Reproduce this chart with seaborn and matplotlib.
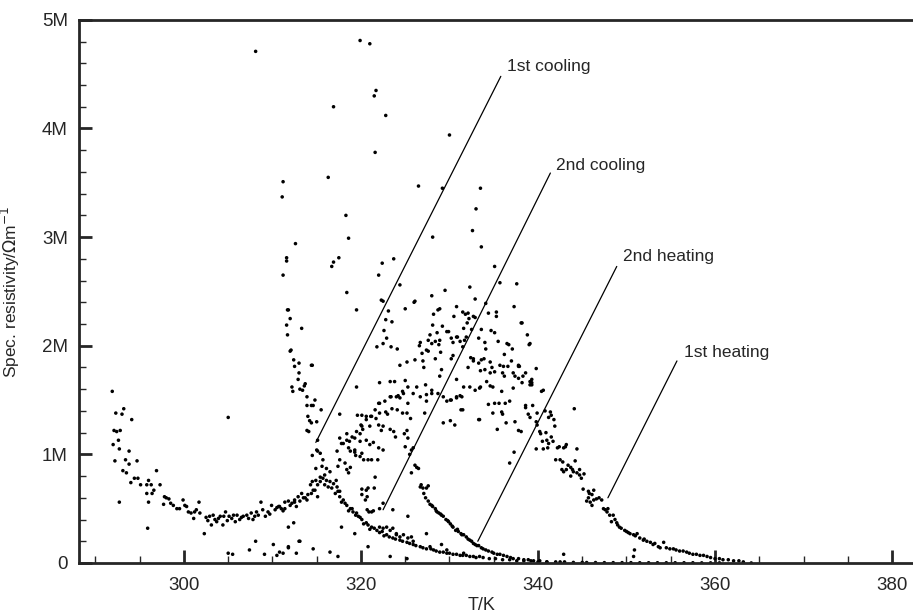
import numpy as np
import pandas as pd
import seaborn as sns
import matplotlib
matplotlib.use("Agg")
from matplotlib import pyplot as plt
from matplotlib.ticker import MultipleLocator, FuncFormatter

# (T in K, specific resistivity in M Ohm m^-1)

cool1 = [
    (291.9, 1.58), (292.1, 1.22), (292.3, 1.38), (292.4, 1.21), (292.6, 1.13), (292.0, 1.09),
    (292.7, 1.05), (292.8, 1.22), (293.0, 1.37), (293.2, 1.42), (292.2, 0.94), (292.7, 0.56),
    (293.4, 0.95), (293.8, 1.03), (294.1, 1.32), (293.1, 0.85), (293.5, 0.83), (293.8, 0.91),
    (294.0, 0.74), (294.4, 0.78), (294.7, 0.94), (294.8, 0.78), (295.1, 0.72), (295.8, 0.72),
    (295.8, 0.64), (296.0, 0.76), (295.9, 0.32), (296.3, 0.72), (296.4, 0.64), (296.6, 0.67),
    (296.9, 0.85), (297.3, 0.72), (296.0, 0.56), (297.8, 0.61), (298.0, 0.60), (297.7, 0.54),
    (298.3, 0.59), (298.5, 0.55), (298.8, 0.53), (299.2, 0.50), (299.5, 0.50), (299.9, 0.58),
    (300.1, 0.53), (300.3, 0.52), (300.5, 0.47), (300.8, 0.46), (301.1, 0.41), (301.2, 0.47),
    (301.4, 0.49), (301.7, 0.56), (301.8, 0.46), (302.3, 0.27), (302.7, 0.39), (302.9, 0.43),
    (303.1, 0.35), (303.3, 0.44), (303.5, 0.40), (303.7, 0.38), (304.1, 0.43), (304.4, 0.35),
    (304.5, 0.43), (304.7, 0.47), (305.0, 1.34), (305.1, 0.43), (305.4, 0.41), (305.8, 0.38),
    (306.0, 0.44), (306.3, 0.40), (306.7, 0.43), (307.1, 0.44), (307.3, 0.41), (307.6, 0.46),
    (308.0, 0.43), (308.4, 0.44), (308.7, 0.56), (308.9, 0.49), (309.2, 0.43), (309.5, 0.47),
    (309.9, 0.53), (310.3, 0.49), (310.7, 0.52), (311.0, 0.50), (311.4, 0.56), (311.8, 0.57),
    (312.2, 0.55), (312.5, 0.58), (312.9, 0.61), (313.3, 0.64), (313.7, 0.60), (314.0, 0.63),
    (314.6, 0.67), (315.1, 0.61), (302.5, 0.42), (303.9, 0.41), (304.9, 0.39), (305.6, 0.44),
    (306.5, 0.42), (307.8, 0.40), (308.2, 0.47), (309.7, 0.45), (310.5, 0.51), (311.2, 0.48),
    (312.0, 0.53), (312.7, 0.52), (313.1, 0.57), (313.9, 0.58), (310.8, 0.52), (311.4, 0.50),
    (312.5, 0.56), (313.5, 0.60), (314.4, 0.64), (314.8, 0.67), (315.1, 0.72), (315.4, 0.75),
    (305.0, 0.09), (305.5, 0.08), (307.4, 0.12), (308.1, 0.20), (309.1, 0.08), (310.1, 0.17),
    (310.5, 0.07), (310.8, 0.10), (311.8, 0.14), (312.4, 0.37), (311.8, 0.33), (312.7, 0.09),
    (313.0, 0.20), (311.2, 0.09), (311.8, 0.15), (313.1, 0.20), (314.6, 0.13),
    (311.7, 2.10), (312.0, 1.95), (312.1, 1.96), (312.4, 1.87), (313.0, 1.84), (312.5, 1.81),
    (314.5, 1.82), (312.9, 1.69), (313.0, 1.75), (313.7, 1.65), (312.2, 1.62), (312.3, 1.58),
    (313.1, 1.60), (313.4, 1.59), (313.6, 1.63), (313.9, 1.45), (314.4, 1.45), (314.6, 1.45),
    (314.8, 1.50), (314.0, 1.35), (314.2, 1.31), (314.4, 1.29), (315.0, 1.30), (313.9, 1.22),
    (314.1, 1.21), (315.1, 1.13), (315.1, 1.03), (314.5, 0.99), (314.9, 0.87), (314.3, 0.72),
    (314.5, 0.75), (314.9, 0.76), (313.9, 1.53), (315.5, 1.41), (315.0, 1.04), (315.4, 1.01),
    (315.7, 0.95), (315.6, 0.89), (316.1, 0.87), (316.5, 0.84), (315.9, 0.81), (311.7, 2.33),
    (312.0, 2.25), (311.6, 2.19), (313.3, 2.16), (314.4, 1.82),
    (308.1, 4.71), (311.2, 3.51), (311.1, 3.37), (312.6, 2.94), (311.6, 2.81), (311.6, 2.78),
    (311.2, 2.65), (316.3, 3.55), (316.9, 4.20), (318.3, 3.20), (318.6, 2.99), (317.5, 2.81),
    (316.9, 2.77), (316.7, 2.73), (318.4, 2.49), (319.5, 2.33), (311.8, 2.33),
]

cool2 = [
    (315.4, 0.79), (315.7, 0.78), (316.1, 0.76), (316.5, 0.75), (316.9, 0.73), (317.3, 0.70),
    (317.4, 0.66), (317.6, 0.61), (318.0, 0.58), (318.4, 0.53), (318.8, 0.50), (319.1, 0.47),
    (319.7, 0.43), (320.1, 0.40), (320.6, 0.37), (321.2, 0.33), (321.8, 0.30), (322.1, 0.28),
    (322.9, 0.26), (323.6, 0.23), (324.4, 0.21), (325.2, 0.19), (325.9, 0.17), (326.7, 0.15),
    (327.4, 0.13), (328.2, 0.12), (328.9, 0.10), (329.7, 0.09), (330.4, 0.08), (331.2, 0.07),
    (331.9, 0.07), (332.7, 0.06), (333.4, 0.06), (319.5, 0.46), (322.1, 0.33), (324.0, 0.26),
    (325.9, 0.20), (327.8, 0.15), (329.7, 0.12), (331.6, 0.09), (315.9, 0.72), (316.3, 0.70),
    (316.7, 0.69), (317.1, 0.64), (317.8, 0.56), (318.2, 0.55), (318.6, 0.48), (319.0, 0.50),
    (319.4, 0.44), (319.9, 0.42), (320.3, 0.36), (320.8, 0.35), (321.0, 0.31), (321.5, 0.32),
    (322.4, 0.29), (322.6, 0.25), (323.2, 0.24), (323.9, 0.22), (324.7, 0.20), (325.5, 0.18),
    (326.2, 0.16), (327.0, 0.14), (327.9, 0.13), (328.5, 0.11), (329.3, 0.10), (330.0, 0.09),
    (330.8, 0.08), (331.5, 0.07), (332.3, 0.06), (333.0, 0.05), (333.8, 0.05), (334.5, 0.04),
    (335.2, 0.04), (336.0, 0.03), (336.8, 0.03), (337.6, 0.02), (338.4, 0.02), (339.2, 0.02),
    (340.0, 0.01), (341.0, 0.01), (342.0, 0.01), (343.0, 0.01), (344.0, 0.005), (345.0, 0.005),
    (322.5, 0.32), (322.9, 0.33), (323.3, 0.30), (323.6, 0.32), (324.0, 0.27), (324.4, 0.24),
    (324.8, 0.26), (325.3, 0.23), (325.7, 0.24), (320.1, 0.68), (320.1, 0.63), (320.6, 0.67),
    (320.8, 0.69), (321.5, 0.69), (320.5, 0.58), (320.7, 0.61), (322.1, 0.50), (322.5, 0.55),
    (323.6, 0.49), (325.3, 0.43), (320.7, 0.49), (320.9, 0.47), (321.2, 0.47), (321.4, 0.48),
    (316.5, 0.10), (317.4, 0.06), (317.8, 0.33), (319.3, 0.27), (320.8, 0.15), (323.3, 0.06),
    (325.2, 0.04), (327.4, 0.27), (329.1, 0.17),
]

heat2 = [
    (326.8, 0.72), (327.0, 0.69), (326.7, 0.70), (327.6, 0.71), (327.4, 0.69), (327.1, 0.64),
    (327.3, 0.60), (327.6, 0.57), (327.8, 0.54), (328.1, 0.52), (328.4, 0.50), (328.5, 0.48),
    (328.8, 0.46), (329.1, 0.44), (329.3, 0.43), (329.6, 0.40), (329.9, 0.38), (330.1, 0.36),
    (330.4, 0.33), (330.7, 0.30), (331.0, 0.29), (331.3, 0.27), (331.6, 0.26), (331.9, 0.24),
    (332.1, 0.22), (332.5, 0.20), (332.9, 0.17), (333.3, 0.16), (332.7, 0.18), (333.8, 0.13),
    (334.4, 0.11), (335.0, 0.09), (335.7, 0.08), (336.5, 0.06), (337.2, 0.04), (338.4, 0.03),
    (339.5, 0.02), (341.0, 0.01), (342.5, 0.01), (328.0, 0.53), (328.6, 0.47), (329.0, 0.45),
    (329.8, 0.39), (330.3, 0.34), (330.9, 0.31), (331.4, 0.26), (332.3, 0.21), (333.1, 0.16),
    (333.6, 0.14), (334.1, 0.12), (334.8, 0.10), (335.4, 0.08), (336.1, 0.07), (336.9, 0.05),
    (337.8, 0.04), (338.9, 0.03), (340.2, 0.02),
]

heat1 = [
    (319.5, 1.62), (322.1, 1.66), (323.3, 1.67), (323.8, 1.67), (325.0, 1.68), (326.3, 1.62),
    (327.3, 1.64), (331.6, 1.62), (323.4, 1.53), (324.2, 1.54), (324.4, 1.52), (324.7, 1.58),
    (325.3, 1.47), (322.0, 1.47), (327.4, 1.49), (328.0, 1.56), (329.7, 1.49), (330.2, 1.50),
    (330.8, 1.52), (331.4, 1.53), (331.3, 1.41), (317.6, 1.37), (319.6, 1.36), (320.1, 1.36),
    (320.6, 1.35), (321.1, 1.35), (321.7, 1.33), (322.1, 1.38), (322.8, 1.39), (323.0, 1.37),
    (323.5, 1.42), (324.1, 1.41), (324.7, 1.38), (325.2, 1.38), (325.6, 1.33), (327.2, 1.38),
    (329.3, 1.29), (330.1, 1.31), (330.6, 1.27), (333.4, 1.32), (320.0, 1.27), (320.2, 1.23),
    (319.9, 1.19), (321.0, 1.26), (322.0, 1.27), (322.3, 1.22), (322.5, 1.26), (323.3, 1.23),
    (323.7, 1.21), (323.9, 1.16), (325.2, 1.22), (324.9, 1.19), (325.3, 1.15), (318.4, 1.19),
    (317.6, 1.15), (318.0, 1.10), (318.7, 1.12), (319.3, 1.15), (319.9, 1.12), (320.6, 1.13),
    (321.0, 1.09), (321.4, 1.11), (322.0, 1.06), (322.5, 1.04), (317.3, 1.03), (318.8, 1.03),
    (319.3, 1.04), (319.4, 0.99), (319.9, 0.98), (320.3, 0.95), (320.8, 0.95), (321.2, 0.95),
    (321.9, 0.95), (317.6, 0.95), (318.2, 0.92), (318.8, 0.88), (317.4, 0.89), (318.4, 0.86),
    (318.6, 0.83), (317.2, 0.76), (321.6, 0.79), (326.1, 0.90), (326.3, 0.88), (326.5, 0.87),
    (325.7, 0.83), (325.5, 1.00), (325.7, 1.04), (325.9, 1.06), (325.0, 1.07), (317.6, 0.66),
    (324.4, 1.82), (325.2, 1.85), (326.1, 1.87), (326.9, 1.93), (327.4, 1.96), (328.0, 2.02),
    (328.6, 2.12), (328.9, 2.05), (329.7, 2.13), (330.2, 2.07), (330.8, 2.08), (331.2, 2.04),
    (331.9, 2.08), (332.7, 1.88), (333.3, 1.84), (333.6, 1.87), (334.0, 1.78), (334.6, 1.75),
    (335.1, 1.76), (335.7, 1.82), (336.6, 1.81), (336.2, 1.72), (337.2, 1.75), (337.8, 1.81),
    (338.3, 1.72), (339.1, 1.67), (339.3, 1.64), (337.2, 1.61), (335.9, 1.58), (334.9, 1.62),
    (334.2, 1.67), (333.4, 1.61), (332.9, 1.59), (332.3, 1.62), (330.8, 1.53), (330.1, 1.50),
    (329.3, 1.53), (328.7, 1.56), (328.0, 1.59), (327.4, 1.55), (326.7, 1.53), (325.9, 1.56),
    (325.3, 1.62), (324.8, 1.56), (324.0, 1.53), (323.3, 1.53), (322.7, 1.49), (322.1, 1.47),
    (321.6, 1.41), (321.2, 1.35), (320.6, 1.32), (320.1, 1.26), (319.5, 1.21), (319.0, 1.16),
    (318.4, 1.13), (317.8, 1.10), (318.6, 1.06), (319.3, 1.02), (320.1, 1.01),
    (321.6, 3.78), (319.9, 4.81), (321.0, 4.78), (321.7, 4.35), (321.5, 4.30), (322.8, 4.12),
    (330.0, 3.94), (326.5, 3.47), (329.2, 3.45), (333.5, 3.45), (333.0, 3.26), (332.6, 3.06),
    (333.6, 2.91), (328.1, 3.00), (323.7, 2.80), (322.4, 2.76), (322.0, 2.65), (335.1, 2.73),
    (324.4, 2.56), (335.7, 2.58), (337.6, 2.57), (332.3, 2.54), (329.5, 2.51), (328.0, 2.46),
    (322.3, 2.42), (322.5, 2.41), (326.0, 2.40), (332.9, 2.43), (334.1, 2.39), (337.3, 2.36),
    (325.0, 2.34), (323.1, 2.32), (330.8, 2.36), (331.5, 2.31), (332.1, 2.30), (328.9, 2.34),
    (328.2, 2.29), (334.4, 2.30), (335.3, 2.31), (335.3, 2.27), (326.1, 2.41), (328.7, 2.33),
    (331.8, 2.29), (332.7, 2.27), (332.2, 2.25), (338.1, 2.21), (338.8, 2.10), (339.1, 2.02),
    (322.8, 2.24), (323.5, 2.22), (322.6, 2.14), (322.9, 2.07), (322.5, 2.02), (321.8, 1.99),
    (323.4, 1.99), (324.1, 1.97), (328.1, 2.19), (329.2, 2.18), (327.8, 2.10), (326.7, 2.03),
    (326.6, 2.00), (327.6, 2.05), (328.4, 2.04), (328.8, 2.01), (329.9, 2.13), (330.4, 2.03),
    (330.5, 2.27), (331.6, 2.16), (330.9, 2.08), (332.0, 2.21), (332.5, 2.15), (332.9, 2.26),
    (331.7, 2.05), (331.5, 1.99), (333.3, 2.07), (333.6, 2.15), (334.7, 2.14), (335.1, 2.12),
    (334.0, 2.03), (335.5, 2.04), (336.5, 2.02), (336.7, 2.01), (339.0, 2.01), (334.1, 1.97),
    (337.1, 1.97), (327.6, 1.95), (329.0, 1.94), (330.4, 1.91), (336.2, 1.92), (332.4, 1.89),
    (330.2, 1.88), (328.4, 1.88), (333.9, 1.88), (337.0, 1.86), (327.0, 1.86), (334.6, 1.85),
    (332.7, 1.86), (337.8, 1.82), (337.9, 1.81), (339.8, 1.79), (332.1, 1.80), (336.1, 1.81),
    (334.8, 1.80), (327.1, 1.80), (329.1, 1.78), (338.6, 1.75), (336.0, 1.75), (333.5, 1.77),
    (337.8, 1.70), (337.4, 1.72), (339.3, 1.69), (330.8, 1.69), (328.9, 1.72), (338.2, 2.21),
    (331.2, 1.54), (331.5, 1.41), (333.5, 1.62), (334.6, 1.63), (338.2, 1.66), (339.1, 1.64),
    (339.3, 1.66), (340.6, 1.59), (340.4, 1.58), (334.4, 1.46), (335.1, 1.47), (335.6, 1.47),
    (336.3, 1.47), (336.8, 1.49), (334.9, 1.38), (335.9, 1.39), (336.0, 1.37), (338.6, 1.45),
    (338.6, 1.43), (339.4, 1.45), (338.9, 1.37), (339.1, 1.34), (339.9, 1.38), (340.8, 1.40),
    (341.4, 1.39), (341.5, 1.36), (341.2, 1.34), (341.8, 1.32), (344.1, 1.42), (333.3, 1.32),
    (335.4, 1.23), (336.4, 1.29), (337.4, 1.30), (337.8, 1.22), (338.1, 1.21), (339.8, 1.30),
    (339.9, 1.27), (340.2, 1.21), (340.3, 1.19), (340.9, 1.20), (341.9, 1.26), (341.5, 1.16),
    (341.7, 1.12), (340.5, 1.12), (341.0, 1.13), (341.2, 1.10), (340.6, 1.05), (341.1, 1.06),
    (339.8, 1.05), (342.2, 1.06), (342.4, 1.07), (342.9, 1.06), (343.2, 1.09), (343.1, 1.07),
    (344.4, 1.05), (337.3, 1.02), (336.8, 0.92), (342.0, 0.95), (342.5, 0.95), (342.8, 0.93),
    (344.2, 0.94), (343.4, 0.90), (343.7, 0.88), (343.9, 0.86), (344.0, 0.84), (342.7, 0.86),
    (342.9, 0.84), (343.2, 0.86), (343.7, 0.80), (344.4, 0.83), (344.7, 0.81), (344.9, 0.78),
    (345.2, 0.82), (344.7, 0.86), (345.1, 0.68), (345.7, 0.66), (345.8, 0.64), (346.3, 0.67),
    (346.1, 0.63), (345.7, 0.60), (346.3, 0.58), (346.6, 0.59), (346.9, 0.60), (347.2, 0.58),
    (345.5, 0.57), (345.9, 0.56), (346.1, 0.53), (347.4, 0.50), (347.6, 0.49), (347.8, 0.47),
    (347.9, 0.50), (348.1, 0.44), (348.5, 0.44), (348.3, 0.38), (348.7, 0.40), (348.9, 0.37),
    (349.2, 0.33), (349.4, 0.32), (349.8, 0.30), (350.0, 0.29), (350.4, 0.27), (350.8, 0.26),
    (351.2, 0.27), (351.5, 0.23), (351.9, 0.21), (352.3, 0.20), (352.7, 0.19), (353.2, 0.18),
    (353.6, 0.15), (353.8, 0.14), (354.2, 0.19), (354.5, 0.14), (355.3, 0.13), (356.0, 0.11),
    (356.8, 0.10), (357.5, 0.08), (358.3, 0.07), (359.1, 0.06), (360.0, 0.04), (360.9, 0.03),
    (362.1, 0.02), (363.2, 0.01), (364.1, 0.00), (349.0, 0.35), (350.2, 0.28), (351.0, 0.25),
    (352.0, 0.22), (353.0, 0.17), (354.9, 0.13), (355.6, 0.12), (356.4, 0.11), (357.1, 0.09),
    (357.9, 0.08), (358.7, 0.07), (359.5, 0.05), (360.5, 0.04), (361.5, 0.03), (362.7, 0.02),
    (342.9, 0.08), (350.9, 0.12), (350.8, 0.06),
    (345.5, 0.004), (346.5, 0.004), (347.5, 0.003), (348.5, 0.003), (349.5, 0.003),
    (350.5, 0.003), (351.5, 0.002), (352.5, 0.002), (353.5, 0.002), (354.5, 0.002),
    (355.5, 0.002), (356.5, 0.002), (357.5, 0.002), (358.5, 0.001), (359.5, 0.001), (360.5, 0.001),
]

runs = ["1st cooling", "2nd cooling", "2nd heating", "1st heating"]
run_points = [cool1, cool2, heat2, heat1]

# label text position and the point its line goes to (T, M)
label_pos = [(336.5, 4.53), (342.0, 3.62), (349.6, 2.78), (356.5, 1.90)]
line_top = [(335.8, 4.48), (341.4, 3.59), (348.9, 2.73), (355.7, 1.86)]
line_end = [(314.9, 1.11), (322.5, 0.49), (333.2, 0.20), (347.9, 0.60)]

frames = []
for name, pts in zip(runs, run_points):
    a = np.array(pts)
    frames.append(pd.DataFrame({"T": a[:, 0], "rho": a[:, 1], "run": name}))
df = pd.concat(frames, ignore_index=True)

sns.set_style("ticks")
plt.rcParams["font.family"] = ["Liberation Sans", "DejaVu Sans"]

fig = plt.figure(figsize=(9.13, 6.13), dpi=100)
ax = fig.add_axes([0.0865, 0.0816, 0.9135, 0.886])

sns.scatterplot(data=df, x="T", y="rho", hue="run",
                palette=["black"] * 4, s=6.5, linewidth=0, legend=False, ax=ax)

for name, tp, lt, le in zip(runs, label_pos, line_top, line_end):
    ax.plot([lt[0], le[0]], [lt[1], le[1]], color="black", lw=0.9)
    ax.text(tp[0], tp[1], name, fontsize=12.5, ha="left", va="baseline")

ax.set_xlim(288.14, 382.37)
ax.set_ylim(0, 5)

ax.xaxis.set_major_locator(MultipleLocator(20))
ax.xaxis.set_minor_locator(MultipleLocator(5))
ax.yaxis.set_major_locator(MultipleLocator(1))
ax.yaxis.set_minor_locator(MultipleLocator(0.2))
ax.yaxis.set_major_formatter(FuncFormatter(lambda v, p: "0" if v == 0 else "{}M".format(int(round(v)))))

ax.tick_params(which="major", direction="in", length=9.5, width=2, labelsize=13.5)
ax.tick_params(axis="x", which="major", pad=10)
ax.tick_params(axis="y", which="major", pad=8)
ax.tick_params(which="minor", direction="in", length=5, width=1)
ax.tick_params(axis="y", which="both", right=False)
ax.tick_params(axis="x", which="both", top=False)

for s in ("left", "bottom", "top"):
    ax.spines[s].set_linewidth(2)
ax.spines["right"].set_visible(False)

ax.set_xlabel("T/K", fontsize=13)
ax.set_ylabel(r"Spec. resistivity/$\Omega$m$^{-1}$", fontsize=12.5)
ax.xaxis.set_label_coords(0.483, -0.063)
ax.yaxis.set_label_coords(-0.068, 0.5)

fig.savefig("out.png", dpi=100)
